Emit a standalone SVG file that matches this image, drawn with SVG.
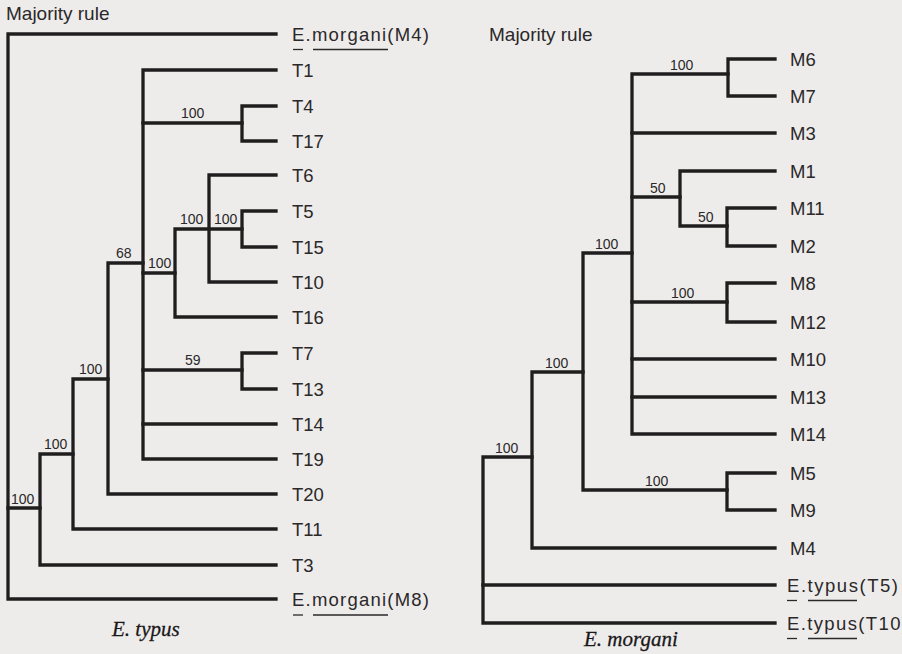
<svg xmlns="http://www.w3.org/2000/svg" width="902" height="654" viewBox="0 0 902 654">
  <style>
    .bg { fill: #eeeceb; }
    .br { fill: none; stroke: #1f1d1e; stroke-width: 3.3; stroke-linejoin: miter; stroke-linecap: square; }
    .ul { stroke: #2a2829; stroke-width: 1.3; }
    .leaf { font-family: "Liberation Sans", Arial, sans-serif; font-size: 18.5px; fill: #2a2829; }
    .sup { font-family: "Liberation Sans", Arial, sans-serif; font-size: 14px; fill: #2a2829; }
    .title { font-family: "Liberation Sans", Arial, sans-serif; font-size: 19px; fill: #2a2829; }
    .cap { font-family: "Liberation Serif", "Times New Roman", serif; font-size: 21px; font-style: italic; fill: #1a1819; stroke: #1a1819; stroke-width: 0.3; }
  </style>
  <rect class="bg" x="0" y="0" width="902" height="654"/>

  <!-- ===== Left tree: E. typus ===== -->
  <text class="title" x="6" y="20">Majority rule</text>

  <g id="left-connectors">
    <!-- root -->
    <path class="br" d="M276,34 H8 V599 H276"/>
    <path class="br" d="M8,508 H40"/>
    <!-- clade at x=40 -->
    <path class="br" d="M73,454 H40 V565 H276"/>
    <!-- clade at x=73 -->
    <path class="br" d="M108,379 H73 V529 H276"/>
    <!-- clade at x=108 -->
    <path class="br" d="M143,263 H108 V494 H276"/>
    <!-- clade at x=143 -->
    <path class="br" d="M276,70 H143 V459 H276"/>
    <path class="br" d="M143,123 H242"/>
    <path class="br" d="M143,273 H175"/>
    <path class="br" d="M143,370 H242"/>
    <path class="br" d="M143,424 H276"/>
    <!-- T4 / T17 -->
    <path class="br" d="M276,106 H242 V141 H276"/>
    <!-- clade at x=175 -->
    <path class="br" d="M242,229 H175 V317 H276"/>
    <!-- clade at x=209 -->
    <path class="br" d="M276,175 H209 V282 H276"/>
    <!-- T5 / T15 -->
    <path class="br" d="M276,211 H242 V247 H276"/>
    <!-- T7 / T13 -->
    <path class="br" d="M276,353 H242 V389 H276"/>
  </g>

  <g id="left-support">
    <text class="sup" x="11" y="504">100</text>
    <text class="sup" x="44" y="449">100</text>
    <text class="sup" x="79" y="374">100</text>
    <text class="sup" x="116" y="258">68</text>
    <text class="sup" x="181" y="118">100</text>
    <text class="sup" x="148" y="268">100</text>
    <text class="sup" x="180" y="224">100</text>
    <text class="sup" x="214" y="224">100</text>
    <text class="sup" x="185" y="365">59</text>
  </g>

  <g id="leaf-M4-out">
    <text class="leaf" x="292" y="41" textLength="137">E.morgani(M4)</text>
    <line class="ul" x1="293" y1="49.5" x2="303" y2="49.5"/>
    <line class="ul" x1="313" y1="49.5" x2="388" y2="49.5"/>
  </g>
  <g id="leaf-T1"><text class="leaf" x="292" y="77">T1</text></g>
  <g id="leaf-T4"><text class="leaf" x="292" y="113">T4</text></g>
  <g id="leaf-T17"><text class="leaf" x="292" y="148">T17</text></g>
  <g id="leaf-T6"><text class="leaf" x="292" y="182">T6</text></g>
  <g id="leaf-T5"><text class="leaf" x="292" y="218">T5</text></g>
  <g id="leaf-T15"><text class="leaf" x="292" y="254">T15</text></g>
  <g id="leaf-T10"><text class="leaf" x="292" y="289">T10</text></g>
  <g id="leaf-T16"><text class="leaf" x="292" y="324">T16</text></g>
  <g id="leaf-T7"><text class="leaf" x="292" y="360">T7</text></g>
  <g id="leaf-T13"><text class="leaf" x="292" y="396">T13</text></g>
  <g id="leaf-T14"><text class="leaf" x="292" y="431">T14</text></g>
  <g id="leaf-T19"><text class="leaf" x="292" y="466">T19</text></g>
  <g id="leaf-T20"><text class="leaf" x="292" y="501">T20</text></g>
  <g id="leaf-T11"><text class="leaf" x="292" y="536">T11</text></g>
  <g id="leaf-T3"><text class="leaf" x="292" y="572">T3</text></g>
  <g id="leaf-M8-out">
    <text class="leaf" x="292" y="606" textLength="137">E.morgani(M8)</text>
    <line class="ul" x1="293" y1="615" x2="303" y2="615"/>
    <line class="ul" x1="313" y1="615" x2="388" y2="615"/>
  </g>

  <text class="cap" x="112" y="636">E. typus</text>

  <!-- ===== Right tree: E. morgani ===== -->
  <text class="title" x="489" y="41">Majority rule</text>

  <g id="right-connectors">
    <!-- root -->
    <path class="br" d="M532,457 H483 V623 H775"/>
    <path class="br" d="M483,585 H775"/>
    <!-- clade at x=532 -->
    <path class="br" d="M583,372 H532 V548 H775"/>
    <!-- clade at x=583 -->
    <path class="br" d="M632,253 H583 V490 H727"/>
    <!-- M5 / M9 -->
    <path class="br" d="M775,473 H727 V510 H775"/>
    <!-- clade at x=632 -->
    <path class="br" d="M728,74 H632 V434 H775"/>
    <path class="br" d="M632,133 H775"/>
    <path class="br" d="M632,197 H680"/>
    <path class="br" d="M632,302 H727"/>
    <path class="br" d="M632,359 H775"/>
    <path class="br" d="M632,397 H775"/>
    <!-- M6 / M7 -->
    <path class="br" d="M775,59 H728 V96 H775"/>
    <!-- clade at x=680 -->
    <path class="br" d="M775,171 H680 V226 H727"/>
    <!-- M11 / M2 -->
    <path class="br" d="M775,208 H727 V246 H775"/>
    <!-- M8 / M12 -->
    <path class="br" d="M775,283 H727 V322 H775"/>
  </g>

  <g id="right-support">
    <text class="sup" x="495" y="453">100</text>
    <text class="sup" x="545" y="368">100</text>
    <text class="sup" x="595" y="249">100</text>
    <text class="sup" x="645" y="486">100</text>
    <text class="sup" x="670" y="70">100</text>
    <text class="sup" x="650" y="193">50</text>
    <text class="sup" x="698" y="222">50</text>
    <text class="sup" x="671" y="298">100</text>
  </g>

  <g id="leaf-M6"><text class="leaf" x="790" y="66">M6</text></g>
  <g id="leaf-M7"><text class="leaf" x="790" y="103">M7</text></g>
  <g id="leaf-M3"><text class="leaf" x="790" y="140">M3</text></g>
  <g id="leaf-M1"><text class="leaf" x="790" y="178">M1</text></g>
  <g id="leaf-M11"><text class="leaf" x="790" y="215">M11</text></g>
  <g id="leaf-M2"><text class="leaf" x="790" y="253">M2</text></g>
  <g id="leaf-M8"><text class="leaf" x="790" y="290">M8</text></g>
  <g id="leaf-M12"><text class="leaf" x="790" y="329">M12</text></g>
  <g id="leaf-M10"><text class="leaf" x="790" y="366">M10</text></g>
  <g id="leaf-M13"><text class="leaf" x="790" y="404">M13</text></g>
  <g id="leaf-M14"><text class="leaf" x="790" y="441">M14</text></g>
  <g id="leaf-M5"><text class="leaf" x="790" y="480">M5</text></g>
  <g id="leaf-M9"><text class="leaf" x="790" y="517">M9</text></g>
  <g id="leaf-M4"><text class="leaf" x="790" y="555">M4</text></g>
  <g id="leaf-T5-out">
    <text class="leaf" x="787" y="592" textLength="111">E.typus(T5)</text>
    <line class="ul" x1="787" y1="600.5" x2="797" y2="600.5"/>
    <line class="ul" x1="808" y1="600.5" x2="857" y2="600.5"/>
  </g>
  <g id="leaf-T10-out">
    <text class="leaf" x="787" y="630" textLength="121">E.typus(T10)</text>
    <line class="ul" x1="787" y1="638.5" x2="797" y2="638.5"/>
    <line class="ul" x1="808" y1="638.5" x2="857" y2="638.5"/>
  </g>

  <text class="cap" x="584" y="646">E. morgani</text>
</svg>
